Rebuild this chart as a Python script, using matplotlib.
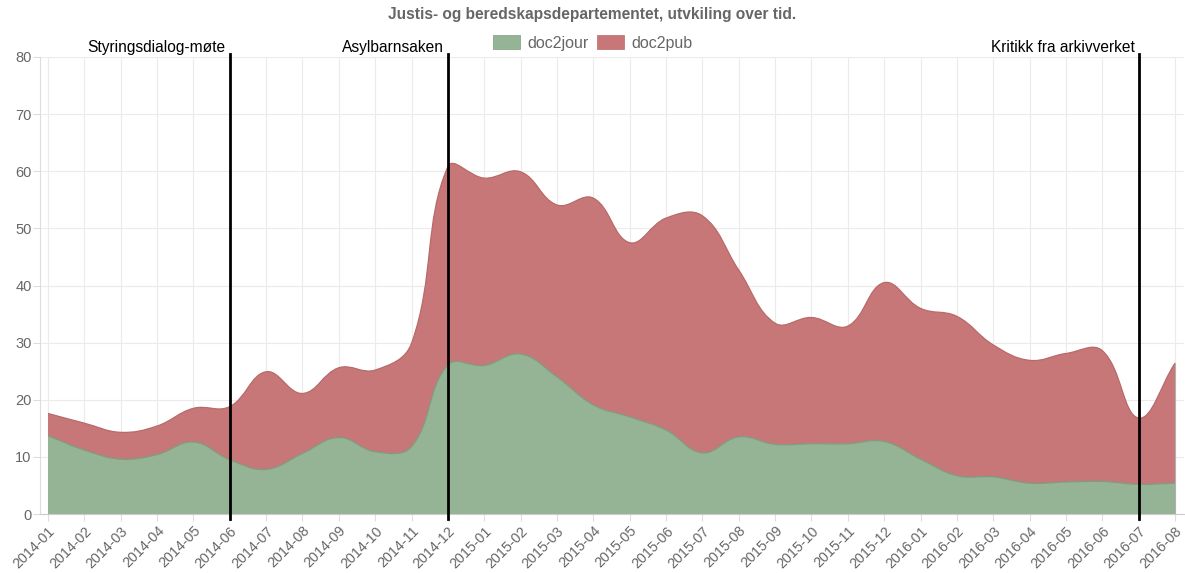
import numpy as np
import matplotlib
matplotlib.use('Agg')
import matplotlib.pyplot as plt
from matplotlib.path import Path
from matplotlib.patches import PathPatch, Patch
from matplotlib.transforms import blended_transform_factory

plt.rcParams['font.family'] = ['Liberation Sans', 'DejaVu Sans']

# данные
months = ['2014-01', '2014-02', '2014-03', '2014-04', '2014-05', '2014-06', '2014-07', '2014-08',
          '2014-09', '2014-10', '2014-11', '2014-12', '2015-01', '2015-02', '2015-03', '2015-04',
          '2015-05', '2015-06', '2015-07', '2015-08', '2015-09', '2015-10', '2015-11', '2015-12',
          '2016-01', '2016-02', '2016-03', '2016-04', '2016-05', '2016-06', '2016-07', '2016-08']
doc2jour = [13.7, 11.2, 9.6, 10.4, 12.6, 9.5, 7.8, 10.6, 13.4, 10.9, 11.8, 26.1, 26.0, 28.0, 24.0, 19.1,
            17.0, 14.7, 10.7, 13.5, 12.2, 12.3, 12.3, 12.7, 9.6, 6.7, 6.5, 5.4, 5.6, 5.7, 5.2, 5.4]
doc2pub = [3.9, 4.7, 4.7, 5.0, 5.9, 9.3, 17.1, 10.5, 12.2, 14.3, 18.1, 34.7, 32.8, 31.9, 30.1, 36.2,
           30.5, 37.1, 41.5, 29.2, 21.2, 22.1, 20.6, 27.8, 26.4, 27.9, 23.1, 21.5, 22.5, 22.9, 11.6, 21.0]
event_months = ['2014-06', '2014-12', '2016-07']
event_labels = ['Styringsdialog-møte', 'Asylbarnsaken', 'Kritikk fra arkivverket']

SX, SY = 36.35, 5.71  # пикселей на месяц / на единицу


def bezier(xv, yv, t=0.4):
    # сглаживание как в Chart.js (tension 0.4)
    px = np.asarray(xv, float) * SX
    py = np.asarray(yv, float) * SY
    n = len(px)
    cprev = np.zeros((n, 2))
    cnext = np.zeros((n, 2))
    for i in range(n):
        a = max(i - 1, 0)
        b = min(i + 1, n - 1)
        d01 = np.hypot(px[i] - px[a], py[i] - py[a])
        d12 = np.hypot(px[b] - px[i], py[b] - py[i])
        s = d01 + d12
        s01 = d01 / s if s else 0
        s12 = d12 / s if s else 0
        dx, dy = px[b] - px[a], py[b] - py[a]
        cprev[i] = [px[i] - t * s01 * dx, py[i] - t * s01 * dy]
        cnext[i] = [px[i] + t * s12 * dx, py[i] + t * s12 * dy]
    cprev[:, 1] = np.clip(cprev[:, 1], 0, 80 * SY)
    cnext[:, 1] = np.clip(cnext[:, 1], 0, 80 * SY)
    pts = np.column_stack([px, py])
    segs = []
    for i in range(n - 1):
        segs.append((pts[i], cnext[i], cprev[i + 1], pts[i + 1]))
    return [tuple(np.array(p) / [SX, SY] for p in s) for s in segs]


def curve_verts(segs, reverse=False):
    verts, codes = [], []
    if reverse:
        segs = [(s[3], s[2], s[1], s[0]) for s in segs[::-1]]
    for j, s in enumerate(segs):
        if j == 0:
            verts.append(s[0]); codes.append(Path.LINETO)
        verts += [s[1], s[2], s[3]]
        codes += [Path.CURVE4] * 3
    return verts, codes


def area(top_segs, bottom_segs):
    v1, c1 = curve_verts(top_segs)
    v2, c2 = curve_verts(bottom_segs, reverse=True)
    c1[0] = Path.MOVETO
    verts = v1 + v2 + [v1[0]]
    codes = c1 + c2 + [Path.CLOSEPOLY]
    return Path(verts, codes)


x = np.arange(len(months))
jour = np.array(doc2jour)
total = jour + np.array(doc2pub)

fig = plt.figure(figsize=(11.85, 5.73), dpi=100)
ax = fig.add_axes([40 / 1185, 59 / 573, 1144 / 1185, 457 / 573])

green = '#95b395'
red = '#c77777'
jour_segs = bezier(x, jour)
total_segs = bezier(x, total)
zero_segs = bezier(x, np.zeros(len(x)))

ax.add_patch(PathPatch(area(jour_segs, zero_segs), facecolor=green, edgecolor='none', zorder=2))
ax.add_patch(PathPatch(area(total_segs, jour_segs), facecolor=red, edgecolor='none', zorder=2))
v, c = curve_verts(jour_segs); c[0] = Path.MOVETO
ax.add_patch(PathPatch(Path(v, c), facecolor='none', edgecolor='#7f9c7f', lw=0.9, zorder=3))
v, c = curve_verts(total_segs); c[0] = Path.MOVETO
ax.add_patch(PathPatch(Path(v, c), facecolor='none', edgecolor='#b86a6a', lw=0.9, zorder=3))
ax.plot([x[-1], x[-1]], [0, total[-1]], color='#b0b0b0', lw=0.8, zorder=3)

ax.set_xlim(-8 / SX, len(x) - 1 + 9 / SX)
ax.set_ylim(0, 80)
ax.set_xticks(x)
ax.set_xticklabels(months, rotation=45, ha='right', rotation_mode='anchor')
ax.set_yticks(range(0, 81, 10))
ax.grid(True, color='#ebebeb', lw=0.8, zorder=0)
ax.set_axisbelow(True)
for s in ['top', 'right']:
    ax.spines[s].set_visible(False)
ax.spines['left'].set_color('#dddddd')
ax.spines['bottom'].set_color('#cccccc')
ax.tick_params(axis='both', colors='#dddddd', labelcolor='#666666', length=5)
ax.tick_params(axis='x', pad=2, labelsize=10.3)
ax.tick_params(axis='y', pad=1, labelsize=10.5)

# события
tr = blended_transform_factory(ax.transData, ax.transAxes)
for m, lab in zip(event_months, event_labels):
    i = months.index(m)
    ax.plot([i, i], [-5 / 457, 1 + 3 / 457], color='black', lw=2, transform=tr, clip_on=False, zorder=5)
    ax.text(i - 4 / SX, 1 + 2 / 457, lab, transform=tr, ha='right', va='bottom',
            fontsize=11.2, color='black')

fig.text(0.5, 1 - 15 / 573, 'Justis- og beredskapsdepartementet, utvkiling over tid.',
         ha='center', va='center', fontsize=11.2, fontweight='bold', color='#666666')
handles = [Patch(facecolor=green, edgecolor='#7f9c7f', lw=0.5), Patch(facecolor=red, edgecolor='#b86a6a', lw=0.5)]
fig.legend(handles, ['doc2jour', 'doc2pub'], loc='center', bbox_to_anchor=(0.5, 1 - 43 / 573),
           ncol=2, frameon=False, fontsize=11.5, labelcolor='#666666', handlelength=1.7,
           handleheight=1.0, handletextpad=0.45, columnspacing=0.55)

fig.savefig('out.png', dpi=100)
